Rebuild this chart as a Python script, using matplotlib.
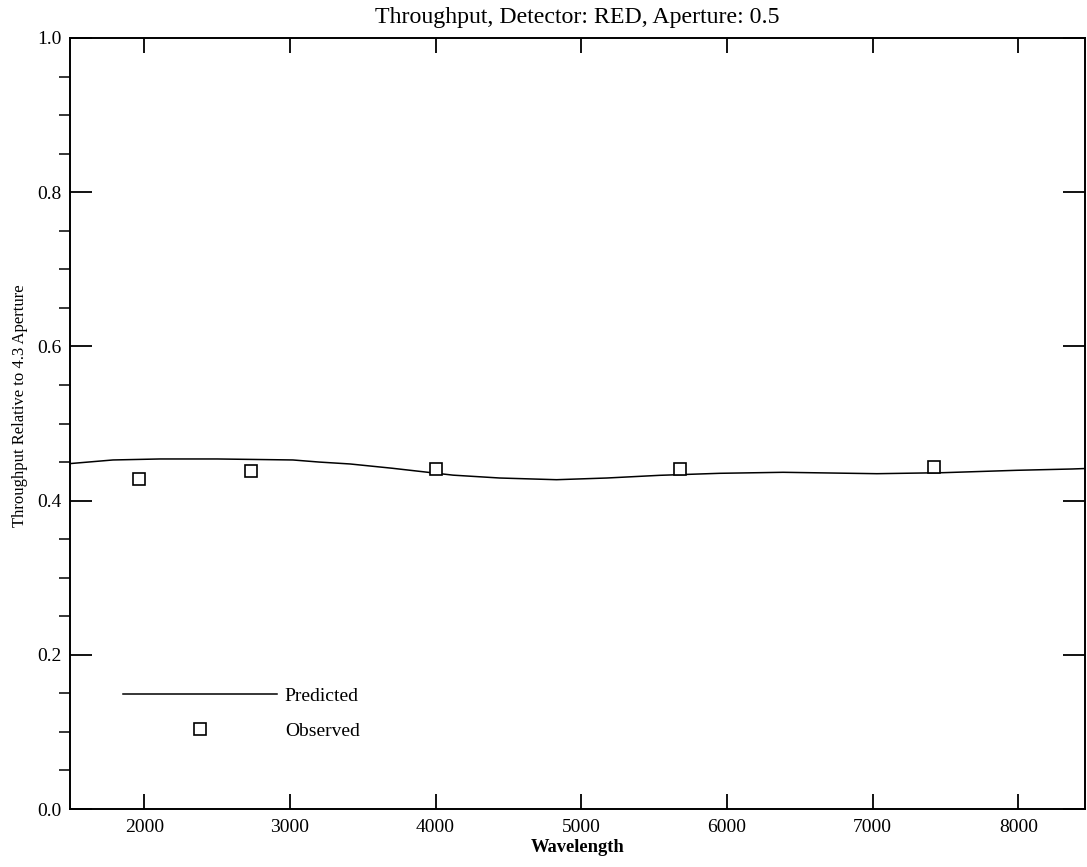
import matplotlib
matplotlib.use('Agg')
from matplotlib import pyplot as plt
from matplotlib.ticker import MultipleLocator

# predicted throughput curve
pred_wave = [1490, 1785, 2108, 2500, 3020, 3200, 3413, 3700, 4050, 4120, 4440,
             4830, 5175, 5540, 5950, 6385, 7030, 7483, 7990, 8370, 8458]
pred_thru = [0.448, 0.4527, 0.454, 0.454, 0.4527, 0.450, 0.4475, 0.442, 0.4345,
             0.433, 0.4293, 0.4271, 0.4293, 0.4328, 0.4354, 0.4367, 0.4349,
             0.4362, 0.4393, 0.441, 0.4416]

# observed points
obs_wave = [1964, 2733, 4000, 5677, 7423]
obs_thru = [0.4284, 0.4385, 0.4406, 0.4414, 0.4432]

plt.rcParams['font.family'] = ['Liberation Serif', 'DejaVu Serif']

fig = plt.figure(figsize=(10.87, 8.67), dpi=100)
ax = fig.add_axes([70 / 1087, 1 - 809 / 867, 1015 / 1087, 771 / 867])

ax.plot(pred_wave, pred_thru, color='black', lw=1.1, label='Predicted')
ax.plot(obs_wave, obs_thru, ls='none', marker='s', ms=8, mfc='white',
        mec='black', mew=1.2, label='Observed')

ax.set_xlim(1490, 8458)
ax.set_ylim(0, 1.0)
ax.set_xticks([2000, 3000, 4000, 5000, 6000, 7000, 8000])
ax.yaxis.set_major_locator(MultipleLocator(0.2))
ax.yaxis.set_minor_locator(MultipleLocator(0.05))
ax.yaxis.set_major_formatter(matplotlib.ticker.FormatStrFormatter('%.1f'))

ax.tick_params(axis='both', direction='in', top=True, right=True,
               labelsize=14, width=1.3)
ax.tick_params(axis='x', which='major', length=11, pad=7)
ax.tick_params(axis='y', which='major', length=16, pad=6)
ax.tick_params(axis='y', which='minor', length=8, width=1.1)
for s in ax.spines.values():
    s.set_linewidth(1.4)

ax.set_title('Throughput, Detector: RED, Aperture: 0.5', fontsize=17.2, pad=11)
ax.set_xlabel('Wavelength', fontsize=13.3, fontweight='bold', labelpad=2)
ax.set_ylabel('Throughput Relative to 4.3 Aperture', fontsize=12)
ax.yaxis.set_label_coords(-0.041, 0.523)

ax.legend(loc='upper left', bbox_to_anchor=(0.045, 0.168), frameon=False,
          handlelength=7.9, handletextpad=0.4, labelspacing=0.9, fontsize=14,
          numpoints=1, borderaxespad=0)

fig.savefig('out.png', dpi=100)
